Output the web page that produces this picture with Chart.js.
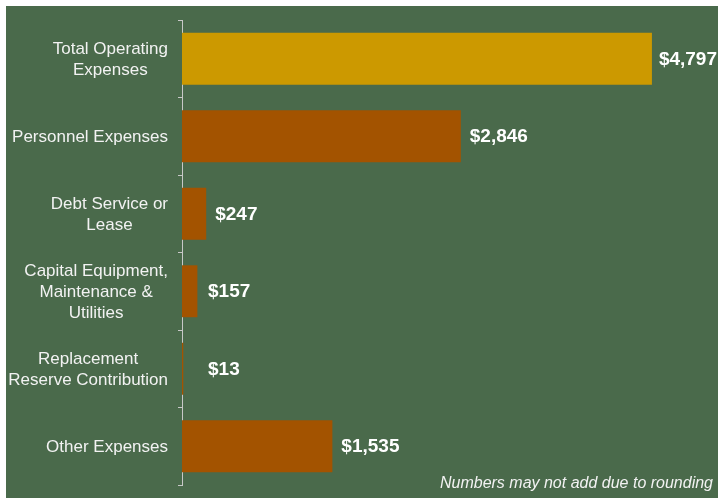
<!DOCTYPE html>
<html>
<head>
<meta charset="utf-8">
<script src="https://cdn.jsdelivr.net/npm/chart.js@4"></script>
<style>
html,body{margin:0;padding:0;background:#ffffff;}
#wrap{position:relative;width:718px;height:498px;}
</style>
</head>
<body>
<div id="wrap"><canvas id="c" width="718" height="498"></canvas></div>
<script>
const categories = [
  ["Total Operating", "Expenses"],
  ["Personnel Expenses"],
  ["Debt Service or", "Lease"],
  ["Capital Equipment,", "Maintenance &", "Utilities"],
  ["Replacement", "Reserve Contribution"],
  ["Other Expenses"]
];
const values = [4797, 2846, 247, 157, 13, 1535];
const valueLabels = ["$4,797", "$2,846", "$247", "$157", "$13", "$1,535"];
const footnote = "Numbers may not add due to rounding";

const barColors = ["#CC9900", "#A35300", "#A35300", "#A35300", "#A35300", "#A35300"];
const FONT = '"Liberation Sans", Arial, sans-serif';

const bgPlugin = {
  id: 'bg',
  beforeDraw(chart) {
    const ctx = chart.ctx;
    ctx.save();
    ctx.fillStyle = '#ffffff';
    ctx.fillRect(0, 0, chart.width, chart.height);
    ctx.fillStyle = '#4A6A4B';
    ctx.fillRect(6, 6, chart.width - 6, chart.height - 6);
    ctx.restore();
  }
};

const labelPlugin = {
  id: 'vlabels',
  afterDatasetsDraw(chart) {
    const ctx = chart.ctx;
    const meta = chart.getDatasetMeta(0);
    const yScale = chart.scales.y;
    const left = chart.chartArea.left;
    ctx.save();
    // category labels: block right-aligned, lines centred within block
    ctx.fillStyle = '#F2F2F2';
    ctx.font = '17px ' + FONT;
    ctx.textBaseline = 'middle';
    ctx.textAlign = 'center';
    const lh = 21;
    const rightEdge = left - 14;
    categories.forEach((lines, i) => {
      const yc = yScale.getPixelForTick(i);
      const w = Math.max(...lines.map(l => ctx.measureText(l).width));
      const cx = rightEdge - w / 2;
      const y0 = yc - (lines.length - 1) * lh / 2;
      lines.forEach((l, k) => ctx.fillText(l, cx, y0 + k * lh + 1));
    });
    // value labels
    ctx.fillStyle = '#ffffff';
    ctx.font = 'bold 19px ' + FONT;
    ctx.textAlign = 'left';
    meta.data.forEach((bar, i) => {
      const x = Math.min(Math.max(bar.x + 9, left + 26), chart.width - ctx.measureText(valueLabels[i]).width - 1);
      ctx.fillText(valueLabels[i], x, bar.y + 1);
    });
    // footnote
    ctx.font = 'italic 16px ' + FONT;
    ctx.textAlign = 'right';
    ctx.textBaseline = 'alphabetic';
    ctx.fillStyle = '#F2F2F2';
    ctx.fillText(footnote, 713, 488);
    ctx.restore();
  }
};

new Chart(document.getElementById('c'), {
  type: 'bar',
  data: {
    labels: categories,
    datasets: [{
      data: values,
      backgroundColor: barColors,
      borderWidth: 0,
      barPercentage: 0.67,
      categoryPercentage: 1.0
    }]
  },
  options: {
    indexAxis: 'y',
    responsive: false,
    animation: false,
    devicePixelRatio: 1,
    layout: { padding: { top: 20, bottom: 13, right: 7, left: 0 } },
    plugins: { legend: { display: false }, tooltip: { enabled: false } },
    scales: {
      x: {
        display: false,
        min: 0,
        max: 5400
      },
      y: {
        afterFit(scale) { scale.width = 182; },
        grid: {
          display: true,
          drawOnChartArea: false,
          drawTicks: true,
          tickLength: 4,
          offset: true,
          color: '#C8C8C8',
          lineWidth: 1
        },
        border: { display: true, color: '#C8C8C8', width: 1 },
        ticks: { display: false }
      }
    }
  },
  plugins: [bgPlugin, labelPlugin]
});
</script>
</body>
</html>
